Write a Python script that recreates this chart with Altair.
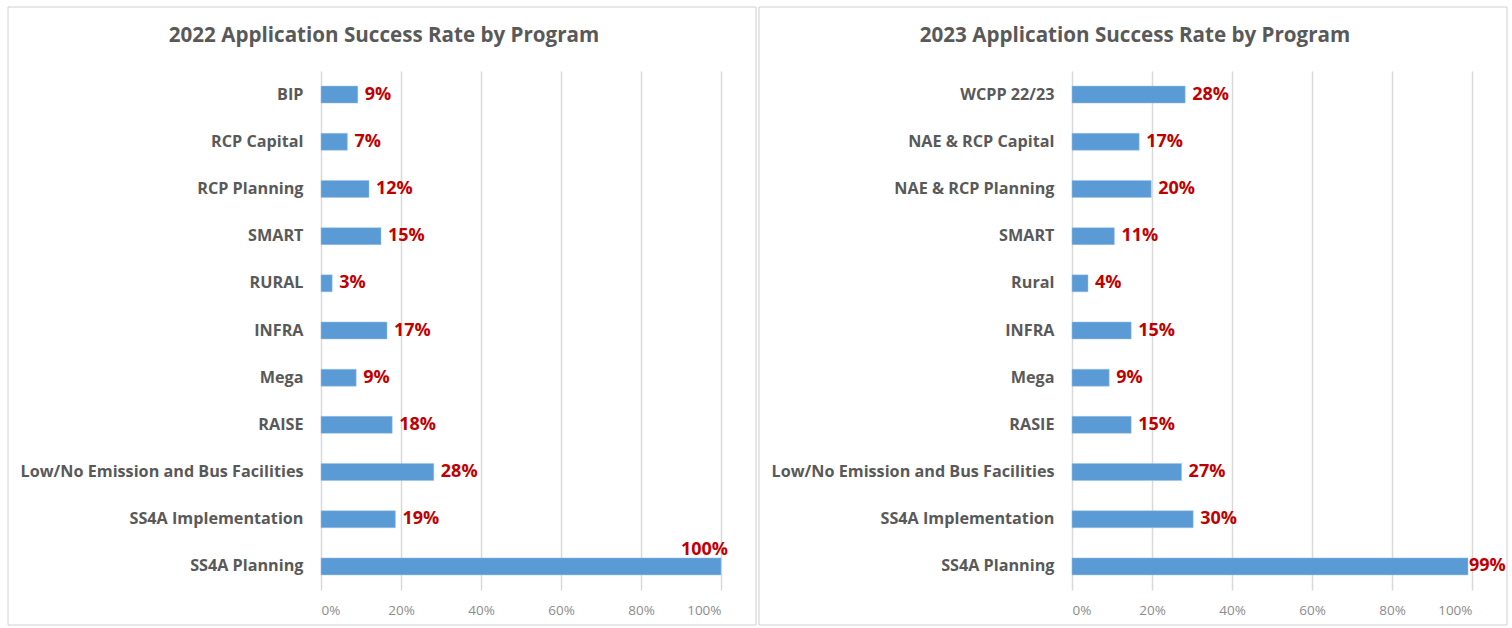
import altair as alt
import pandas as pd

FONT = "Open Sans"

# ---- data ----
programs_2022 = ["BIP", "RCP Capital", "RCP Planning", "SMART", "RURAL", "INFRA",
                 "Mega", "RAISE", "Low/No Emission and Bus Facilities",
                 "SS4A Implementation", "SS4A Planning"]
rates_2022 = [0.092, 0.066, 0.12, 0.15, 0.028, 0.165, 0.088, 0.178, 0.282, 0.186, 1.0]

programs_2023 = ["WCPP 22/23", "NAE & RCP Capital", "NAE & RCP Planning", "SMART", "Rural",
                 "INFRA", "Mega", "RASIE", "Low/No Emission and Bus Facilities",
                 "SS4A Implementation", "SS4A Planning"]
rates_2023 = [0.283, 0.168, 0.198, 0.106, 0.04, 0.148, 0.093, 0.148, 0.274, 0.303, 0.99]

titles = ["2022 Application Success Rate by Program",
          "2023 Application Success Rate by Program"]

BAR = "#5B9BD5"
RED = "#C00000"
GRAY = "#595959"


def panel(programs, rates, title):
    df = pd.DataFrame({"program": programs, "rate": rates})
    base = alt.Chart(df)
    y = alt.Y("program:N", sort=programs, title=None,
              scale=alt.Scale(paddingInner=0.64, paddingOuter=0.32),
              axis=alt.Axis(ticks=False, domain=False, labelFont=FONT,
                            labelFontSize=16.2, labelFontWeight="bold",
                            labelColor=GRAY, labelPadding=18, labelLimit=400))
    x = alt.X("rate:Q", title=None,
              scale=alt.Scale(domain=[0, 1], nice=False),
              axis=alt.Axis(format=".0%", values=[0, 0.2, 0.4, 0.6, 0.8, 1.0],
                            ticks=False, domain=False, grid=True,
                            gridColor="#D9D9D9", gridWidth=1.5,
                            labelFont=FONT, labelFontSize=13.5,
                            labelColor="#8C8C8C", labelPadding=13))
    bars = base.mark_bar(color=BAR, stroke="#9DC3E6", strokeWidth=0.5).encode(x=x, y=y)
    txt_kw = dict(font=FONT, fontSize=18, fontWeight="bold", color=RED)
    labels = base.transform_filter("datum.rate < 0.98").mark_text(
        align="left", baseline="middle", dx=7, **txt_kw
    ).encode(x="rate:Q", y=alt.Y("program:N", sort=programs),
             text=alt.Text("rate:Q", format=".0%"))
    tight = base.transform_filter("datum.rate >= 0.98 && datum.rate < 1").mark_text(
        align="left", baseline="middle", dx=1, **txt_kw
    ).encode(x="rate:Q", y=alt.Y("program:N", sort=programs),
             text=alt.Text("rate:Q", format=".0%"))
    full = base.transform_filter("datum.rate >= 1").mark_text(
        align="right", baseline="bottom", dx=7, dy=-7, **txt_kw
    ).encode(x="rate:Q", y=alt.Y("program:N", sort=programs),
             text=alt.Text("rate:Q", format=".0%"))
    frame = alt.Chart(pd.DataFrame({"f": [0]})).mark_rect(
        fillOpacity=0, stroke="#D0D0D0", strokeWidth=1
    ).encode(x=alt.value(-313), x2=alt.value(435), y=alt.value(-64), y2=alt.value(554))
    return alt.layer(frame, bars, labels, tight, full).properties(
        width=400, height=519,
        title=alt.TitleParams(title, font=FONT, fontSize=20.6, fontWeight="bold",
                              color=GRAY, frame="bounds", anchor="middle",
                              offset=-40, dx=2)
    )


chart = alt.hconcat(
    panel(programs_2022, rates_2022, titles[0]),
    panel(programs_2023, rates_2023, titles[1]),
    spacing=1,
).properties(
    padding={"left": 7, "top": 6, "right": 3, "bottom": 3},
    background="white",
).configure_view(stroke=None)

chart.save("out.html", embed_options={"renderer": "svg", "actions": False})
